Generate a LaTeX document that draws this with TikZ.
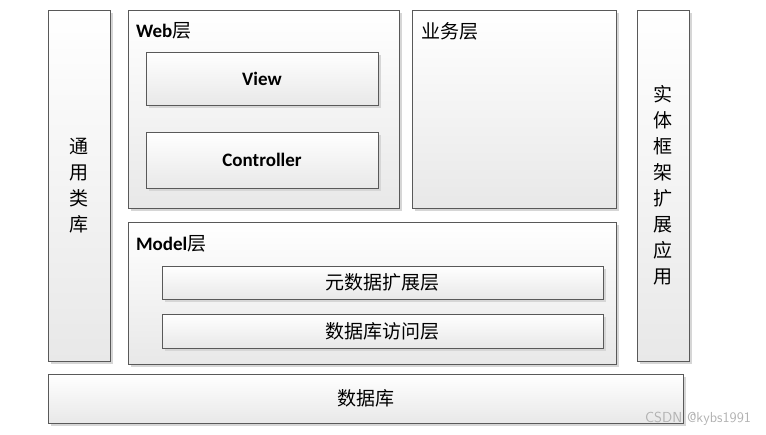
\documentclass[tikz,border=0pt]{standalone}
\usepackage{fontspec}
\setmainfont{Carlito}
\newfontfamily\cjk{Noto Sans CJK SC}
\usetikzlibrary{shadows}

\begin{document}
\begin{tikzpicture}
      % Set up styles, 1 unit = 1 pixel of the layout
      [x=1pt, y=-1pt,
       every node/.style={inner sep=0pt, outer sep=0pt},
       layer/.style={rectangle, draw=black!65, line width=0.8pt,
         top color=white, bottom color=black!9,
         drop shadow={shadow xshift=2.5pt, shadow yshift=-2.5pt, fill=black!16, opacity=1}},
       title/.style={anchor=west, font=\fontsize{19}{21}\selectfont\bfseries},
       cn/.style={font=\fontsize{19}{26}\selectfont\cjk, align=center}]

      \useasboundingbox (0,0) rectangle (766,434);

      % Side columns
      \node[layer, minimum width=62, minimum height=351] (common) at (79,185.5) {};
      \node[cn] (commonText) at (common.center) {通\\用\\类\\库};
      \node[layer, minimum width=52, minimum height=351] (entity) at (663,185.5) {};
      \node[cn] (entityText) at (entity.center) {实\\体\\框\\架\\扩\\展\\应\\用};

      % Web layer
      \node[layer, minimum width=271, minimum height=198] (web) at (263.5,109) {};
      \node[title] (webTitle) at (136,31) {Web{\cjk\fontsize{19}{21}\selectfont\mdseries 层}};
      \node[layer, minimum width=232, minimum height=53] (view) at (262,78.5) {};
      \node[title, anchor=center] (viewText) at (view.center) {View};
      \node[layer, minimum width=232, minimum height=56] (ctrl) at (262,160) {};
      \node[title, anchor=center] (ctrlText) at (ctrl.center) {Controller};

      % Business layer
      \node[layer, minimum width=204, minimum height=198] (biz) at (514,109) {};
      \node[cn, anchor=west] (bizTitle) at (421,31) {业务层};

      % Model layer
      \node[layer, minimum width=488, minimum height=142] (model) at (372,293) {};
      \node[title] (modelTitle) at (136,244) {Model{\cjk\fontsize{19}{21}\selectfont\mdseries 层}};
      \node[layer, minimum width=441, minimum height=33] (meta) at (382.5,282.5) {};
      \node[cn] (metaText) at (meta.center) {元数据扩展层};
      \node[layer, minimum width=441, minimum height=34] (dao) at (382.5,331) {};
      \node[cn] (daoText) at (dao.center) {数据库访问层};

      % Database
      \node[layer, minimum width=635, minimum height=49] (db) at (365.5,398.5) {};
      \node[cn] (dbText) at (db.center) {数据库};

      % Watermark
      \node[anchor=east, text=black!30, font=\fontsize{14.5}{16}\selectfont\sffamily] (mark) at (751,419) {CSDN @kybs1991};

    \end{tikzpicture}
\end{document}
